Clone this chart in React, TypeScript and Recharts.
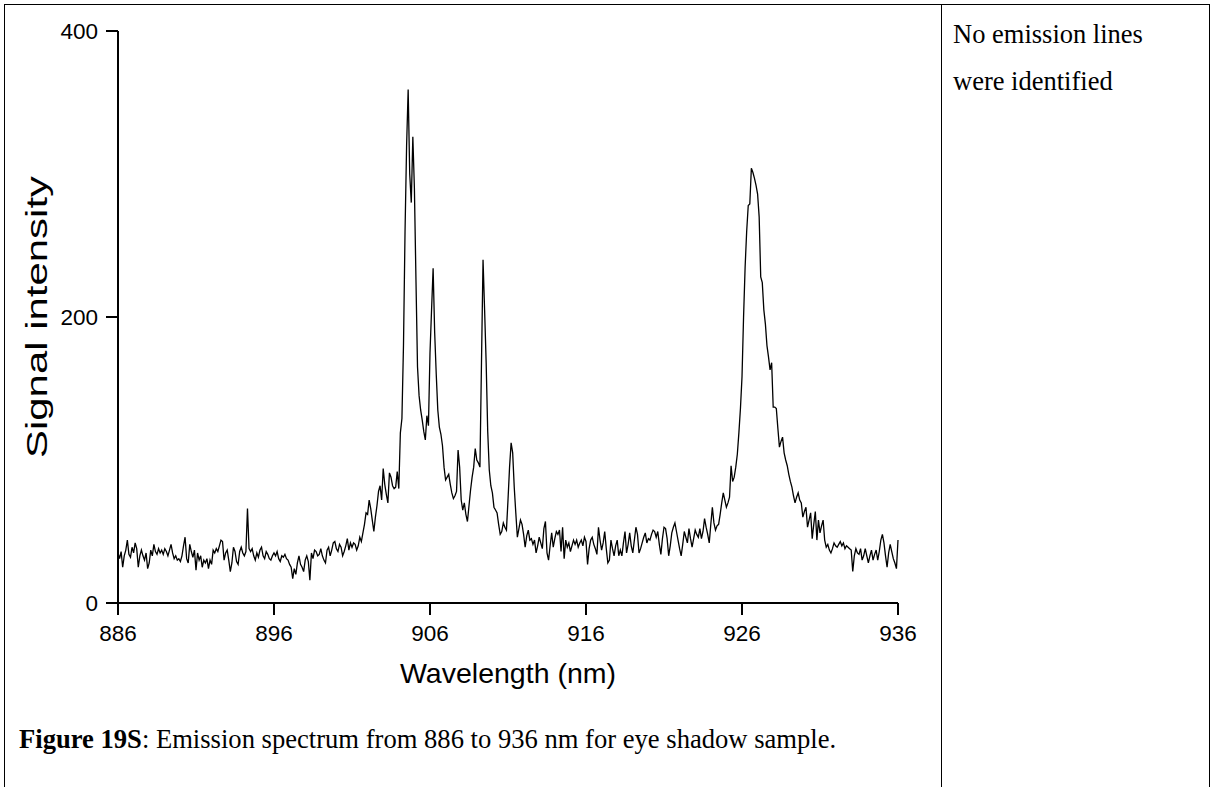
import React from 'react';
import { LineChart, Line, XAxis, YAxis } from 'recharts';

const seg886 = [
  35, 31, 36, 25, 33, 37, 44, 34, 32, 39,
  35, 42, 38, 25, 33, 37, 33, 30, 35, 24,
  28, 37, 33, 41, 36, 34, 38, 35, 37, 34,
  38, 36, 33, 37, 41, 35, 31, 33, 30, 31,
  29, 33, 40, 46, 31, 28, 41, 36, 32, 37,
  23, 35, 30, 33, 25, 30, 28, 31, 24, 30,
  27, 37, 35, 38, 36, 40, 44, 43, 30, 35,
  37, 30, 22, 28, 39, 36, 29, 27, 36, 39,
  35, 33, 36, 66, 38, 36, 38, 33, 30, 35,
  32, 37, 39, 33, 31, 36, 34, 31, 30, 33,
];
const seg896 = [
  35, 33, 36, 31, 29, 33, 32, 34, 31, 30,
  27, 25, 17, 24, 20, 28, 33, 27, 25, 22,
  30, 33, 29, 16, 35, 31, 37, 36, 33, 34,
  38, 33, 30, 28, 37, 39, 33, 37, 42, 43,
  38, 36, 41, 39, 33, 36, 40, 45, 37, 42,
  39, 42, 41, 37, 40, 46, 43, 49, 55, 63,
  62, 72, 66, 58, 50, 60, 68, 78, 82, 72,
  94, 83, 76, 70, 91, 88, 82, 80, 81, 92,
  80, 119, 129, 180, 260, 320, 359, 300, 280, 326,
  290, 226, 165, 145, 135, 128, 120, 114, 131, 124,
];
const seg906 = [
  175, 205, 234, 189, 160, 135, 123, 118, 110, 95,
  86, 88, 90, 83, 77, 73, 75, 78, 107, 95,
  72, 65, 70, 62, 57, 68, 79, 88, 95, 108,
  100, 98, 95, 168, 240, 205, 168, 120, 93, 82,
  77, 67, 65, 63, 55, 48, 50, 56, 53, 51,
  72, 95, 112, 105, 81, 63, 46, 52, 58, 55,
  48, 39, 47, 51, 44, 45, 41, 44, 35, 40,
  46, 42, 38, 52, 57, 35, 30, 40, 49, 39,
  45, 50, 48, 51, 36, 53, 31, 44, 39, 42,
  36, 40, 44, 41, 44, 39, 42, 44, 40, 46,
];
const seg916 = [
  43, 27, 38, 44, 46, 41, 38, 34, 53, 44,
  37, 42, 50, 38, 28, 30, 44, 38, 33, 40,
  44, 33, 37, 33, 42, 50, 35, 41, 49, 40,
  35, 44, 53, 48, 35, 38, 42, 46, 49, 42,
  45, 44, 48, 51, 50, 46, 50, 41, 34, 45,
  53, 52, 45, 33, 40, 49, 53, 56, 50, 44,
  38, 33, 41, 50, 46, 42, 52, 45, 39, 45,
  51, 48, 46, 52, 45, 50, 59, 53, 48, 42,
  55, 67, 56, 51, 54, 55, 62, 70, 77, 72,
  67, 70, 74, 96, 85, 88, 95, 104, 119, 136,
];
const seg926 = [
  158, 200, 235, 260, 278, 279, 304, 301, 297, 292,
  286, 270, 228, 224, 205, 195, 180, 172, 163, 168,
  137, 137, 136, 122, 109, 113, 116, 105, 100, 96,
  90, 85, 81, 75, 70, 74, 77, 72, 70, 60,
  64, 67, 53, 58, 63, 45, 55, 64, 44, 58,
  49, 54, 58, 44, 39, 41, 37, 35, 38, 42,
  40, 39, 41, 43, 40, 42, 38, 40, 39, 38,
  37, 22, 33, 38, 35, 34, 38, 30, 33, 38,
  33, 28, 33, 37, 30, 34, 37, 30, 36, 44,
  48, 42, 33, 25, 35, 41, 36, 31, 28, 24,
  44,
];
const segments = [seg886, seg896, seg906, seg916, seg926];
const segmentStarts = [886, 896, 906, 916, 926];
const stepNm = 0.1;

const xTicks = [886, 896, 906, 916, 926, 936];
const yTicks = [0, 200, 400];

const data = segments.flatMap((seg, k) =>
  seg.map((v, j) => ({ w: Math.round((segmentStarts[k] + j * stepNm) * 10) / 10, v }))
);

const SANS = '"Liberation Sans", Arial, sans-serif';
const SERIF = '"Liberation Serif", "Times New Roman", serif';

const XTitle = (props: any) => {
  const vb = props.viewBox;
  return (
    <text x={vb.x + vb.width / 2} y={vb.y + 80} textAnchor="middle" fontSize={28.5} fontFamily={SANS} fill="#000">
      Wavelength (nm)
    </text>
  );
};

const YTitle = (props: any) => {
  const vb = props.viewBox;
  const x = vb.x - 11;
  const y = vb.y + vb.height / 2;
  return (
    <text
      x={x}
      y={y}
      transform={`rotate(-90, ${x}, ${y})`}
      textAnchor="middle"
      fontSize={29}
      fontFamily={SANS}
      fill="#000"
      textLength={282}
      lengthAdjust="spacingAndGlyphs"
    >
      Signal intensity
    </text>
  );
};

export default function App() {
  return (
    <div style={{ position: 'absolute', left: 0, top: 0, width: 1211, height: 787, background: '#fff', overflow: 'hidden' }}>
      <svg width={1211} height={787} style={{ position: 'absolute', left: 0, top: 0 }}>
        <line x1={4} y1={4.5} x2={1210} y2={4.5} stroke="#000" strokeWidth={1} />
        <line x1={4.5} y1={4} x2={4.5} y2={787} stroke="#000" strokeWidth={1} />
        <line x1={941.5} y1={4} x2={941.5} y2={787} stroke="#000" strokeWidth={1} />
        <line x1={1209.5} y1={4} x2={1209.5} y2={787} stroke="#000" strokeWidth={1} />
        <text x={953} y={43} fontFamily={SERIF} fontSize={26.5} fill="#000">No emission lines</text>
        <text x={953} y={90} fontFamily={SERIF} fontSize={26.5} fill="#000">were identified</text>
        <text x={19} y={748} fontFamily={SERIF} fontSize={26.6} fill="#000">
          <tspan fontWeight="bold">Figure 19S</tspan>: Emission spectrum from 886 to 936 nm for eye shadow sample.
        </text>
      </svg>
      <div style={{ position: 'absolute', left: 0, top: 0 }}>
        <LineChart width={940} height={700} data={data} margin={{ top: 31, right: 42, bottom: 7, left: 58 }}>
          <XAxis
            dataKey="w"
            type="number"
            domain={[886, 936]}
            ticks={xTicks}
            interval={0}
            height={90}
            tickSize={12}
            tickMargin={10}
            axisLine={{ stroke: '#000', strokeWidth: 2 }}
            tickLine={{ stroke: '#000', strokeWidth: 2 }}
            tick={{ fill: '#000', fontSize: 22.5, fontFamily: SANS }}
            label={XTitle}
          />
          <YAxis
            type="number"
            domain={[0, 400]}
            ticks={yTicks}
            interval={0}
            width={60}
            tickSize={12}
            tickMargin={8}
            axisLine={{ stroke: '#000', strokeWidth: 2 }}
            tickLine={{ stroke: '#000', strokeWidth: 2 }}
            tick={{ fill: '#000', fontSize: 22.5, fontFamily: SANS }}
            label={YTitle}
          />
          <Line dataKey="v" type="linear" stroke="#000" strokeWidth={1.3} dot={false} isAnimationActive={false} />
        </LineChart>
      </div>
    </div>
  );
}
